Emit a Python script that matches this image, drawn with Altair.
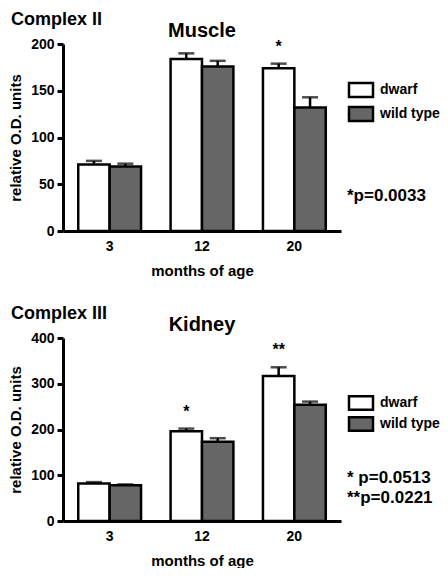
import altair as alt
import pandas as pd

months = ["3", "12", "20"]
groups = ["dwarf", "wild type"]

muscle_dwarf = [71, 184, 174]
muscle_dwarf_err = [4, 6, 5]
muscle_wt = [69, 176, 132]
muscle_wt_err = [3, 6, 11]
muscle_stars = ["", "", "*"]
muscle_note = "*p=0.0033"

kidney_dwarf = [82, 196, 317]
kidney_dwarf_err = [3, 6, 19]
kidney_wt = [78, 173, 254]
kidney_wt_err = [2, 8, 7]
kidney_stars = ["", "*", "**"]
kidney_note = "* p=0.0513\n**p=0.0221"

FONT = "Liberation Sans"
GRAY = "#666666"
W = 278


def frame(dwarf, dwarf_err, wt, wt_err, stars):
    rows = []
    for i, m in enumerate(months):
        rows.append(dict(month=m, group="dwarf", value=dwarf[i],
                         upper=dwarf[i] + dwarf_err[i], star=stars[i]))
        rows.append(dict(month=m, group="wild type", value=wt[i],
                         upper=wt[i] + wt_err[i], star=""))
    return pd.DataFrame(rows)


def panel(df, tissue, complex_label, ymax, ystep, note, H, legend_y, note_y,
          box_path, box_size, leg_dx, leg_off, row_pad):
    x = alt.X("month:N", sort=months, title="months of age",
              scale=alt.Scale(paddingInner=0.32, paddingOuter=0.165),
              axis=alt.Axis(labelAngle=0, ticks=False, domainWidth=3, domainColor="black",
                            labelFont=FONT, labelFontSize=14, labelFontWeight="bold",
                            labelColor="black", labelPadding=8,
                            titleFont=FONT, titleFontSize=15, titleFontWeight="bold",
                            titleColor="black", titlePadding=10))
    xoff = alt.XOffset("group:N", sort=groups, scale=alt.Scale(paddingInner=0, paddingOuter=0))
    y = alt.Y("value:Q", title="relative O.D. units",
              scale=alt.Scale(domain=[0, ymax], nice=False),
              axis=alt.Axis(values=list(range(0, ymax + 1, ystep)), grid=False,
                            domainWidth=3, domainColor="black", tickWidth=3, tickSize=6,
                            tickColor="black", labelFont=FONT, labelFontSize=14,
                            labelFontWeight="bold", labelColor="black", labelPadding=3,
                            titleFont=FONT, titleFontSize=15, titleFontWeight="bold",
                            titleColor="black", titlePadding=7))
    base = alt.Chart(df).encode(x=x, xOffset=xoff)
    bars = base.mark_bar(stroke="black", strokeWidth=2.5).encode(
        y=y,
        color=alt.Color("group:N", scale=alt.Scale(domain=groups, range=["white", GRAY]),
                        legend=alt.Legend(orient="none", legendX=W + leg_dx, legendY=legend_y,
                                          title=None, symbolType=box_path, symbolSize=box_size,
                                          symbolStrokeColor="black", symbolStrokeWidth=2.5,
                                          symbolOpacity=1,
                                          labelFont=FONT, labelFontSize=14,
                                          labelFontWeight="bold", labelColor="black",
                                          labelOffset=leg_off, rowPadding=row_pad, padding=0)))
    err = base.mark_rule(color="black", strokeWidth=2.5).encode(y="value:Q", y2="upper:Q")
    cap = base.mark_tick(color="black", thickness=2.5, size=16).encode(y="upper:Q")
    star = base.mark_text(font=FONT, fontSize=16, fontWeight="bold", dy=-12,
                          baseline="alphabetic", color="black").encode(y="upper:Q", text="star:N")

    lab = pd.DataFrame({"t": [complex_label], "tissue": [tissue], "note": [note]})
    comp = alt.Chart(lab).mark_text(align="left", baseline="alphabetic", font=FONT,
                                    fontSize=18, fontWeight="bold", color="black").encode(
        x=alt.value(-52), y=alt.value(-19), text="t:N")
    ttl = alt.Chart(lab).mark_text(align="center", baseline="alphabetic", font=FONT,
                                   fontSize=20, fontWeight="bold", color="black").encode(
        x=alt.value(W / 2), y=alt.value(-7), text="tissue:N")
    pnote = alt.Chart(lab).mark_text(align="left", baseline="middle", font=FONT,
                                     fontSize=17, fontWeight="bold", color="black",
                                     lineBreak="\n", lineHeight=20).encode(
        x=alt.value(W + 6), y=alt.value(note_y), text="note:N")
    return alt.layer(bars, err, cap, star, comp, ttl, pnote).properties(width=W, height=H)


top = panel(frame(muscle_dwarf, muscle_dwarf_err, muscle_wt, muscle_wt_err, muscle_stars),
            "Muscle", "Complex II", 200, 50, muscle_note, 187, 35, 152,
            "M-1.25,-0.72H1.25V0.72H-1.25Z", 369, 9, 8, 0)
bottom = panel(frame(kidney_dwarf, kidney_dwarf_err, kidney_wt, kidney_wt_err, kidney_stars),
               "Kidney", "Complex III", 400, 100, kidney_note, 183, 56, 140,
               "M-1.6,-0.9H1.6V0.9H-1.6Z", 225, 11, 10, -5)

chart = alt.vconcat(top, bottom, spacing=27).resolve_scale(
    color="independent").resolve_legend(color="independent").properties(
    padding={"top": 3, "left": 0, "right": 0, "bottom": 0}).configure_view(stroke=None)

chart.save("out.html", embed_options={"renderer": "svg", "actions": False})
